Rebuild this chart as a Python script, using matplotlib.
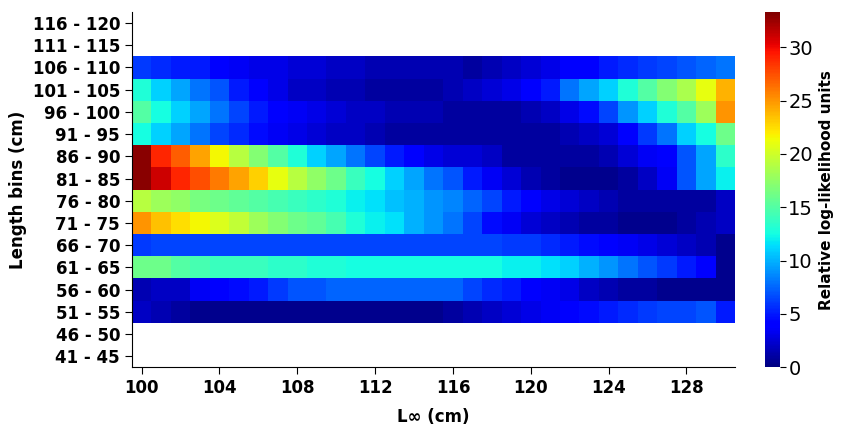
import matplotlib.pyplot as plt
import numpy as np

linf = np.arange(100, 131)
bins = ['41 - 45', '46 - 50', '51 - 55', '56 - 60', '61 - 65', '66 - 70', '71 - 75', '76 - 80',
        '81 - 85', '86 - 90', '91 - 95', '96 - 100', '101 - 105', '106 - 110', '111 - 115', '116 - 120']

# rows bottom (51-55) to top (106-110), 31 columns (L 100..130)
r51 = [2,1.5,1,0.5,0.5,0.5,0.5,0.5,0.5,0.5,0.5,0.5,0.5,0.5,0.5,0.5,1, 1.5,2,2.5,3,3.5,4,4.5,5,5.5,6,6.5,6.5,7,5]
r56 = [1.5,2,2,3.5,4,4.5,5,6,7,7,7.5,7.5,7.5,7.5,7.5,7.5,7.5, 6.5,5.5,5,4,3.5,3,2,1.5,1,1,0.5,0.5,0.5,0.5]
r61 = [16,16,15,14.5,14,14,14,13.5,13.5,13,13,12.5,12.5,12.5,12.5,12.5,12.5, 12.5,12.5,12,12,11.5,11,10,9,8,7,6,5,4,0.5]
r66 = [6,6.5,6.5,6.5,6.5,6.5,6.5,6.5,6.5,6.5,6.5,6.5,6.5,6.5,6.5,6.5,6.5, 6.5,6.5,6,6,5.5,5,4.5,4,3.5,3,2.5,2,1.5,0.5]
r71 = [25,23.5,22.5,21.5,20.5,19.5,18,17,16,15.5,14.5,13,12,11.5,10,9,8, 6.5,4.5,3.5,2.5,2,1.5,1,1,0.5,0.5,0.5,1,1.5,2]
r76 = [19,18,17.5,16.5,16,15.5,15,14.5,14,13.5,13,12,11.5,10.5,10,9,8.5, 7.5,6.5,5,4,3,2.5,2,1.5,1,1,1,1,1,2]
r81 = [33,31,29,27.5,26,24.5,23,21,19,17.5,16,14,12.5,11,9.5,8,7, 5,3.5,2.5,1.5,1,0.5,0.5,0.5,1,2,3.5,7,9.5,12]
r86 = [33,29,27,24.5,21.5,19,17,15,13,11,9.5,8,6.5,5,4,3,2.5, 2.5,2,1,1,1,1,1,1.5,2.5,3.5,4,7,9.5,13.5]
r91 = [12.5,11,9.5,8,6.5,5.5,4.5,3.5,3,2.5,2,2,1.5,1,1,1,1, 1,1,1,1,1,1.5,2,2.5,4,6,8,11,12.5,16]
r96 = [15,12.5,11,9.5,8,6.5,5,4,3.5,3,2.5,2,2,1.5,1.5,1.5,1, 1,1,1,1.5,2,3,4.5,6.5,9,11,13,15,18,25]
r101 = [13,11,9.5,8,7,5,4,3,2,2,1.5,1.5,1,1,1,1,1.5, 2,2.5,3,4,5,8,9.5,11,13,15,17,18.5,21,24]
r106 = [6,5.5,5,5,4,3.5,3,3,2.5,2.5,2,2,1.5,1.5,1.5,1.5,1.5, 1,1.5,2,2.5,3,4,4,5,5.5,6,6.5,7,7.5,8]

rows = [r51, r56, r61, r66, r71, r76, r81, r86, r91, r96, r101, r106]
empty = [np.nan] * len(linf)
Z = np.array([empty, empty] + rows + [empty, empty])

fig = plt.figure(figsize=(8.45, 4.28), dpi=100)
ax = fig.add_axes([0.156, 0.142, 0.714, 0.83])
cax = fig.add_axes([0.905, 0.142, 0.018, 0.83])

x_edges = np.arange(99.5, 131.5, 1)
y_edges = np.arange(17) - 0.5
mesh = ax.pcolormesh(x_edges, y_edges, Z, cmap='jet', vmin=0, vmax=33.3)
ax.set_xlim(99.5, 130.5)
ax.set_ylim(-0.5, 15.5)
ax.set_xticks(np.arange(100, 130, 4))
ax.set_yticks(range(16))
ax.set_yticklabels(bins)
ax.tick_params(labelsize=12, length=5)
for s in ['top', 'right']:
    ax.spines[s].set_visible(False)
ax.set_xlabel('L\u221e (cm)', fontsize=12, fontweight='bold', labelpad=8)
ax.set_ylabel('Length bins (cm)', fontsize=12, fontweight='bold')
for lab in ax.get_xticklabels() + ax.get_yticklabels():
    lab.set_fontweight('bold')

cb = fig.colorbar(mesh, cax=cax, ticks=range(0, 35, 5))
cb.outline.set_visible(False)
cb.ax.tick_params(labelsize=14, length=4, pad=2)
cb.set_label('Relative log-likelihood units', fontsize=11, fontweight='bold', labelpad=4)

plt.savefig('out.png')
plt.close()
